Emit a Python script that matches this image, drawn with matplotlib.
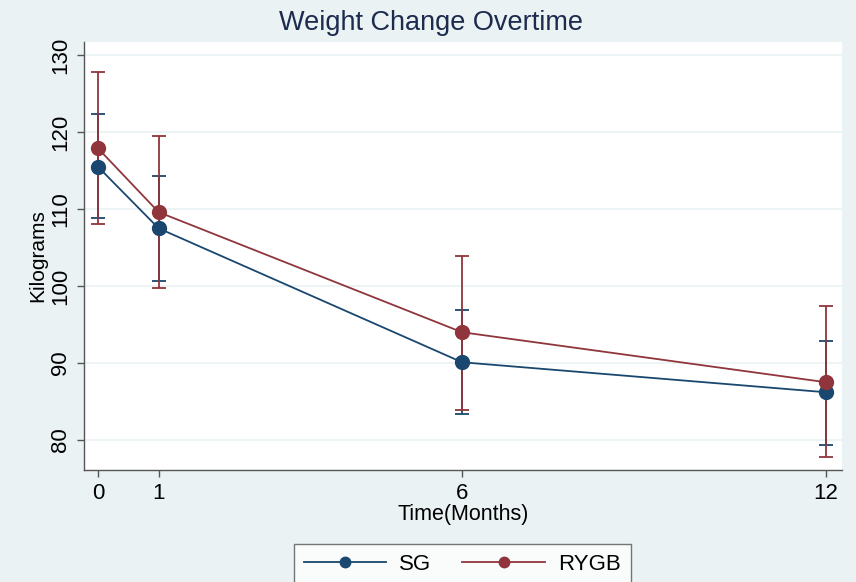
import matplotlib

matplotlib.use('Agg')
import matplotlib.pyplot as plt

# Data
months = [0, 1, 6, 12]
month_labels = ['0', '1', '6', '12']
sg_mean = [115.5, 107.5, 90.1, 86.2]
sg_low = [108.8, 100.6, 83.4, 79.4]
sg_high = [122.3, 114.3, 96.9, 92.9]
rygb_mean = [117.9, 109.6, 94.0, 87.5]
rygb_low = [108.0, 99.8, 83.9, 77.8]
rygb_high = [127.8, 119.5, 103.9, 97.4]
y_ticks = [80, 90, 100, 110, 120, 130]

NAVY = '#1a476f'
MAROON = '#90353b'
BG = '#eaf2f3'

plt.rcParams['font.family'] = ['Liberation Sans', 'DejaVu Sans']

fig = plt.figure(figsize=(8.56, 5.82), dpi=100, facecolor=BG)
ax = fig.add_axes([0.0981, 0.1924, 0.8855, 0.7354])
ax.set_facecolor('white')

# error bars first, SG then RYGB on top
for mean, low, high, color in [(sg_mean, sg_low, sg_high, NAVY),
                               (rygb_mean, rygb_low, rygb_high, MAROON)]:
    yerr = [[m - lo for m, lo in zip(mean, low)], [hi - m for m, hi in zip(mean, high)]]
    ax.errorbar(months, mean, yerr=yerr, fmt='none', ecolor=color,
                elinewidth=1.3, capsize=5, capthick=1.3, zorder=2)

for mean, color, label in [(sg_mean, NAVY, 'SG'), (rygb_mean, MAROON, 'RYGB')]:
    ax.plot(months, mean, color=color, linewidth=1.3, marker='o',
            markersize=10, label=label, zorder=3)

ax.set_xlim(-0.23, 12.26)
ax.set_ylim(76.1, 131.7)
ax.set_xticks(months)
ax.set_xticklabels(month_labels)
ax.set_yticks(y_ticks)
ax.set_yticklabels([str(t) for t in y_ticks], rotation=90, va='center')
ax.yaxis.grid(True, color=BG, linewidth=1.2)
ax.set_axisbelow(True)

for side in ['top', 'right']:
    ax.spines[side].set_visible(False)
for side in ['left', 'bottom']:
    ax.spines[side].set_color('#555555')
    ax.spines[side].set_linewidth(1.0)
ax.tick_params(axis='both', direction='out', length=5, width=1.0,
               color='#555555', labelsize=16, labelcolor='black', pad=4)

ax.set_xlabel('Time(Months)', fontsize=15.5, labelpad=0)
ax.set_ylabel('Kilograms', fontsize=15, labelpad=2)
fig.text(0.503, 0.961, 'Weight Change Overtime', ha='center', va='center',
         fontsize=19.5, color='#1c2b4e')

lgd = fig.legend(loc='upper center', bbox_to_anchor=(0.540, 0.085), ncol=2,
                 fontsize=16, frameon=True, fancybox=False, edgecolor='#555555',
                 handlelength=3.7, handletextpad=0.6, columnspacing=1.4,
                 borderpad=0.45, markerscale=0.75)
lgd.get_frame().set_linewidth(1.0)

fig.savefig('out.png', dpi=100, facecolor=BG)
